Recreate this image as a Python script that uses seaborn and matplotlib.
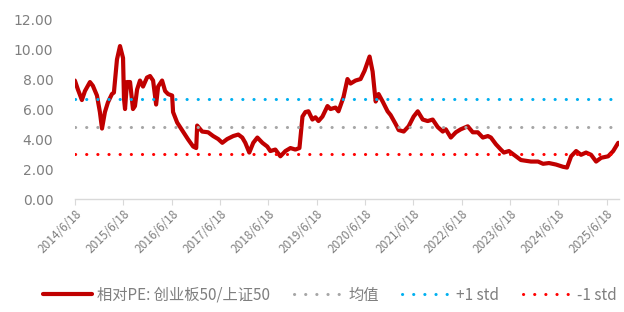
import matplotlib
matplotlib.use("Agg")
import matplotlib.pyplot as plt
import seaborn as sns
import pandas as pd

dates = [
    "2014-06-18", "2014-07-11", "2014-08-10", "2014-09-02", "2014-10-10", "2014-11-01",
    "2014-12-02", "2014-12-24", "2015-01-09", "2015-01-31", "2015-02-23", "2015-03-25",
    "2015-04-09", "2015-05-02", "2015-05-25", "2015-06-17", "2015-06-24", "2015-07-02",
    "2015-07-17", "2015-08-09", "2015-08-31", "2015-09-15", "2015-10-01", "2015-10-23",
    "2015-11-15", "2015-12-15", "2016-01-07", "2016-01-30", "2016-02-22", "2016-03-08",
    "2016-04-07", "2016-04-30", "2016-05-22", "2016-06-22", "2016-06-29", "2016-07-30",
    "2016-08-21", "2016-09-13", "2016-10-21", "2016-11-28", "2016-12-21", "2016-12-28",
    "2017-02-04", "2017-03-21", "2017-04-28", "2017-06-05", "2017-07-06", "2017-08-12",
    "2017-09-27", "2017-11-04", "2017-12-04", "2017-12-27", "2018-01-26", "2018-02-25",
    "2018-03-28", "2018-05-05", "2018-06-11", "2018-07-04", "2018-08-11", "2018-09-18",
    "2018-10-26", "2018-12-03", "2019-01-09", "2019-02-09", "2019-03-04", "2019-03-26",
    "2019-04-18", "2019-05-18", "2019-06-10", "2019-07-03", "2019-08-02", "2019-09-09",
    "2019-10-02", "2019-11-09", "2019-12-01", "2020-01-08", "2020-02-07", "2020-03-01",
    "2020-04-08", "2020-05-16", "2020-06-15", "2020-07-23", "2020-08-15", "2020-09-07",
    "2020-09-29", "2020-10-30", "2020-12-06", "2020-12-29", "2021-02-05", "2021-02-28",
    "2021-04-07", "2021-05-14", "2021-06-21", "2021-07-22", "2021-08-29", "2021-10-05",
    "2021-11-12", "2021-12-20", "2022-01-27", "2022-02-19", "2022-03-29", "2022-05-06",
    "2022-06-12", "2022-08-04", "2022-09-11", "2022-10-19", "2022-11-26", "2023-01-03",
    "2023-01-26", "2023-03-05", "2023-04-11", "2023-05-04", "2023-06-11", "2023-07-19",
    "2023-09-10", "2023-11-25", "2024-01-17", "2024-02-24", "2024-04-09", "2024-06-01",
    "2024-07-24", "2024-08-23", "2024-09-23", "2024-10-31", "2024-12-07", "2025-01-14",
    "2025-02-21", "2025-03-31", "2025-05-08", "2025-06-30", "2025-08-07", "2025-09-14",
]
rel_pe = [
    7.9, 7.3, 6.6, 7.2, 7.8, 7.55,
    6.9, 5.8, 4.7, 5.8, 6.45, 7.0,
    7.1, 9.3, 10.2, 9.4, 6.7, 6.0,
    7.8, 7.8, 6.0, 6.2, 7.3, 7.9,
    7.5, 8.1, 8.2, 7.9, 6.3, 7.5,
    7.9, 7.2, 7.0, 6.9, 5.8, 5.1,
    4.8, 4.5, 3.97, 3.5, 3.4, 4.9,
    4.5, 4.45, 4.2, 4.0, 3.75, 4.0,
    4.2, 4.3, 4.1, 3.75, 3.1, 3.75,
    4.1, 3.75, 3.5, 3.2, 3.3, 2.85,
    3.2, 3.4, 3.3, 3.4, 5.5, 5.8,
    5.85, 5.3, 5.45, 5.2, 5.5, 6.2,
    6.0, 6.1, 5.85, 6.8, 8.0, 7.7,
    7.9, 8.0, 8.55, 9.5, 8.5, 6.5,
    7.0, 6.5, 5.85, 5.6, 5.0, 4.6,
    4.5, 4.85, 5.5, 5.85, 5.3, 5.2,
    5.3, 4.8, 4.5, 4.65, 4.1, 4.45,
    4.65, 4.85, 4.45, 4.45, 4.1, 4.2,
    4.1, 3.65, 3.3, 3.1, 3.2, 2.95,
    2.6, 2.5, 2.5, 2.35, 2.4, 2.3,
    2.15, 2.1, 2.85, 3.2, 2.95, 3.1,
    2.95, 2.5, 2.75, 2.85, 3.2, 3.75,
]
mean_val = 4.83
plus_std = 6.64
minus_std = 3.03
y_ticks = [0, 2, 4, 6, 8, 10, 12]
tick_labels = ["2014/6/18", "2015/6/18", "2016/6/18", "2017/6/18", "2018/6/18", "2019/6/18",
               "2020/6/18", "2021/6/18", "2022/6/18", "2023/6/18", "2024/6/18", "2025/6/18"]
series_name = "相对PE: 创业板50/上证50"

sns.set_style("white")
plt.rcParams['font.family'] = ['Noto Sans CJK SC', 'DejaVu Sans']

df = pd.DataFrame({"date": pd.to_datetime(dates), "value": rel_pe})

fig = plt.figure(figsize=(6.24, 3.12), dpi=100)
ax = fig.add_axes([0.120, 0.362, 0.872, 0.577])

sns.lineplot(data=df, x="date", y="value", ax=ax, color="#C00000", linewidth=3.0,
             label=series_name)
dot = (0, (0.05, 3.6))
ax.axhline(mean_val, color="#A6A6A6", linewidth=2.2, linestyle=dot, dash_capstyle="round", label="均值")
ax.axhline(plus_std, color="#00B0F0", linewidth=2.2, linestyle=dot, dash_capstyle="round", label="+1 std")
ax.axhline(minus_std, color="#FF0000", linewidth=2.2, linestyle=dot, dash_capstyle="round", label="-1 std")

ax.set_xlim(pd.Timestamp("2014-06-18"), pd.Timestamp("2025-09-20"))
ax.set_ylim(0, 12)
ax.set_yticks(y_ticks)
ax.set_yticklabels([f"{v:.2f}" for v in y_ticks], family="DejaVu Sans")
tick_dates = pd.to_datetime([t.replace("/", "-") for t in tick_labels], format="%Y-%m-%d")
ax.set_xticks(tick_dates)
ax.set_xticklabels(tick_labels, rotation=45, ha="right", rotation_mode="anchor")

ax.set_xlabel("")
ax.set_ylabel("")
for s in ["top", "right", "left"]:
    ax.spines[s].set_visible(False)
ax.spines["bottom"].set_color("#D9D9D9")
ax.spines["bottom"].set_linewidth(1.0)
ax.tick_params(axis="x", which="both", bottom=True, length=4, color="#D9D9D9",
               labelsize=8.5, labelcolor="#7F7F7F", pad=2)
ax.tick_params(axis="y", left=False, labelsize=10, labelcolor="#7F7F7F", pad=12)

handles, labels = ax.get_legend_handles_labels()
if ax.legend_:
    ax.legend_.remove()
leg = fig.legend(handles, labels, loc="center left",
                 bbox_to_anchor=(43 / 624, 0.054, (617 - 43) / 624, 0.0),
                 mode="expand", ncol=4, frameon=False, fontsize=11,
                 handlelength=3.2, handletextpad=0.35, borderpad=0, borderaxespad=0,
                 columnspacing=0.8)
for t in leg.get_texts():
    t.set_color("#7F7F7F")

fig.savefig("out.png", dpi=100)
